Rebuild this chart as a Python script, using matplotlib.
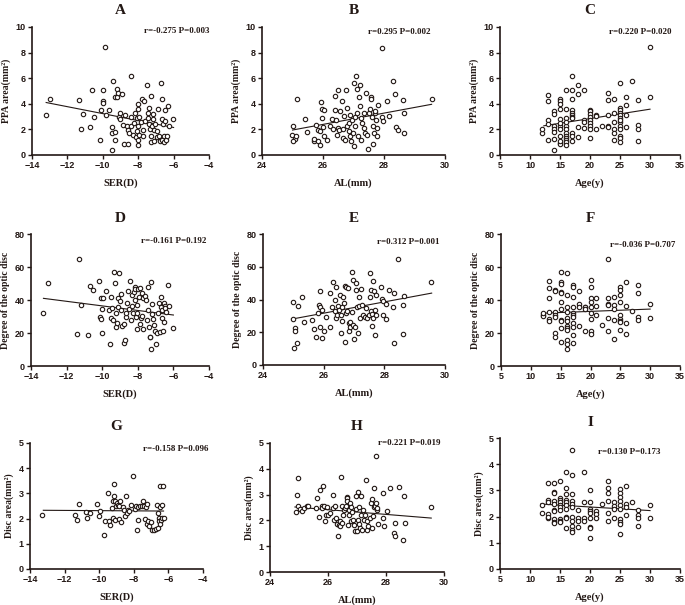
import matplotlib
matplotlib.use('Agg')
import matplotlib.pyplot as plt
import numpy as np

# ---- data ----
# panel A: SER(D) vs PPA area
a_points = [(-13.2, 3.1), (-12.97, 4.35), (-11.37, 4.3), (-11.24, 2.0), (-11.13, 3.24), (-10.75, 2.18),
            (-10.62, 5.05), (-10.5, 3.0), (-10.15, 1.19), (-10.1, 3.5), (-10.0, 5.05), (-10.0, 4.25),
            (-9.97, 4.1), (-9.87, 8.4), (-9.82, 3.13), (-9.67, 3.5), (-9.5, 0.41), (-9.5, 2.15), (-9.5, 1.7),
            (-9.4, 5.78), (-9.31, 1.19), (-9.29, 4.5), (-9.2, 4.56), (-9.18, 5.13), (-9.12, 4.84),
            (-9.07, 2.95), (-9.03, 3.26), (-9.0, 2.82), (-8.92, 4.74), (-8.84, 2.36), (-8.8, 0.83),
            (-8.75, 3.13), (-8.65, 2.23), (-8.6, 0.88), (-8.56, 1.97), (-8.5, 1.71), (-8.41, 2.23),
            (-8.41, 3.0), (-8.39, 6.2), (-8.28, 1.58), (-8.24, 2.49), (-8.19, 3.26), (-8.13, 1.4),
            (-8.05, 2.88), (-8.05, 1.89), (-8.03, 3.96), (-8.02, 3.58), (-8.0, 2.23), (-8.0, 1.19),
            (-8.0, 0.78), (-7.98, 1.58), (-7.94, 3.0), (-7.87, 2.54), (-7.8, 4.4), (-7.75, 1.97),
            (-7.71, 1.5), (-7.68, 4.25), (-7.62, 2.67), (-7.53, 5.44), (-7.47, 3.26), (-7.43, 2.88),
            (-7.39, 3.7), (-7.38, 2.43), (-7.34, 2.02), (-7.3, 4.64), (-7.28, 1.45), (-7.25, 1.04),
            (-7.23, 2.28), (-7.19, 3.24), (-7.15, 2.82), (-7.11, 1.06), (-7.08, 1.97), (-7.04, 2.43),
            (-6.96, 1.4), (-6.91, 1.84), (-6.87, 3.58), (-6.83, 1.45), (-6.78, 1.06), (-6.72, 5.6),
            (-6.68, 4.38), (-6.66, 2.8), (-6.65, 1.19), (-6.61, 2.43), (-6.57, 0.98), (-6.53, 1.5),
            (-6.5, 2.62), (-6.46, 3.52), (-6.42, 1.14), (-6.36, 1.45), (-6.3, 3.83), (-6.25, 2.23),
            (-6.05, 2.8), (-9.3, 1.76)]

# panel B: AL(mm) vs PPA area
b_points = [(25.09, 1.24), (24.98, 1.58), (25.0, 2.28), (25.03, 1.06), (25.1, 1.45), (25.15, 4.38),
            (25.42, 2.8), (25.47, 1.76), (25.69, 1.06), (25.78, 2.36), (25.82, 1.97), (25.85, 1.06),
            (25.89, 0.8), (25.93, 4.17), (25.96, 2.88), (25.97, 3.6), (26.02, 3.52), (26.0, 2.18),
            (26.04, 1.45), (26.13, 1.19), (26.24, 2.23), (26.29, 2.8), (26.34, 2.02), (26.38, 4.64),
            (26.4, 3.52), (26.43, 2.75), (26.45, 1.58), (26.48, 2.1), (26.5, 5.08), (26.54, 1.97),
            (26.56, 3.4), (26.62, 4.22), (26.64, 1.32), (26.67, 2.02), (26.69, 3.08), (26.73, 1.19),
            (26.75, 5.08), (26.78, 2.28), (26.8, 3.65), (26.84, 2.49), (26.85, 1.84), (26.87, 3.13),
            (26.89, 1.45), (26.91, 1.06), (26.94, 2.75), (26.98, 1.71), (27.0, 0.73), (27.02, 5.65),
            (27.04, 3.0), (27.06, 2.23), (27.09, 6.17), (27.11, 3.32), (27.13, 5.13), (27.15, 1.45),
            (27.17, 4.56), (27.2, 3.83), (27.22, 5.47), (27.24, 2.88), (27.26, 1.19), (27.28, 2.49),
            (27.33, 3.32), (27.35, 2.1), (27.38, 1.71), (27.41, 4.87), (27.44, 1.58), (27.48, 0.47),
            (27.52, 3.26), (27.54, 3.58), (27.57, 4.56), (27.59, 4.35), (27.61, 3.0), (27.63, 2.28),
            (27.65, 0.85), (27.68, 1.71), (27.7, 3.26), (27.72, 3.45), (27.74, 2.75), (27.76, 2.1),
            (27.78, 1.45), (27.81, 3.91), (27.94, 8.37), (27.93, 2.93), (27.96, 2.69), (28.09, 4.25),
            (28.18, 3.06), (28.31, 5.78), (28.36, 4.74), (28.38, 2.15), (28.47, 1.97), (28.63, 4.3),
            (28.66, 3.26), (28.67, 1.71), (29.56, 4.35), (25.91, 1.84), (25.69, 1.24)]

# panel C: Age(y) vs PPA area, one list of values per age
c_ages = [12, 13, 14, 15, 16, 17, 18, 19, 20, 21, 22, 23, 24, 25, 26, 27, 28, 30]
c_vals = [[1.7, 2.0],
          [4.65, 4.25, 2.7, 2.4, 1.15],
          [3.4, 3.2, 2.3, 2.0, 1.8, 1.25, 0.42],
          [4.4, 4.25, 4.0, 3.6, 2.8, 2.3, 2.0, 1.5, 0.9, 0.85, 1.1, 2.5],
          [5.05, 3.6, 2.9, 2.3, 2.05, 1.7, 1.5, 1.35, 1.2, 1.05, 0.8, 2.6],
          [6.2, 5.05, 4.4, 3.5, 3.3, 3.15, 3.0, 2.9, 1.7, 1.5, 1.1],
          [5.45, 4.75, 2.15, 1.4],
          [5.1, 2.7, 2.6, 2.1],
          [3.55, 3.4, 3.2, 3.0, 2.7, 2.5, 2.25, 2.0, 1.3],
          [3.1, 3.05, 2.05],
          [2.3],
          [4.85, 4.3, 3.1, 2.25, 2.2],
          [4.4, 3.3, 2.6, 2.0, 1.75, 1.15],
          [5.65, 3.7, 3.5, 3.3, 3.15, 2.9, 2.6, 2.3, 2.0, 1.5, 1.3, 1.05, 2.75],
          [4.55, 3.9, 3.1, 2.2],
          [5.75],
          [4.3, 2.35, 2.0, 1.1],
          [8.4, 4.55]]

# panel D: SER(D) vs degree of the optic disc
d_points = [(-13.3, 31.9), (-13.06, 50.6), (-11.43, 19.1), (-11.32, 64.8), (-11.19, 37.0), (-10.81, 18.7),
            (-10.68, 48.5), (-10.53, 46.1), (-10.19, 51.6), (-10.15, 29.8), (-10.06, 28.2), (-10.04, 41.0),
            (-10.0, 34.3), (-10.02, 19.7), (-9.93, 41.0), (-9.78, 45.7), (-9.63, 33.9), (-9.55, 13.6),
            (-9.53, 28.8), (-9.53, 42.0), (-9.44, 34.9), (-9.4, 27.8), (-9.31, 56.9), (-9.29, 50.2),
            (-9.25, 23.4), (-9.22, 32.3), (-9.18, 25.8), (-9.14, 41.0), (-9.1, 35.5), (-9.03, 56.4),
            (-8.99, 39.6), (-8.95, 33.9), (-8.92, 43.5), (-8.88, 24.2), (-8.8, 25.4), (-8.77, 14.0),
            (-8.73, 16.0), (-8.69, 29.4), (-8.65, 31.9), (-8.6, 38.4), (-8.54, 45.7), (-8.47, 34.3),
            (-8.43, 51.6), (-8.39, 27.8), (-8.35, 36.3), (-8.32, 43.0), (-8.28, 31.9), (-8.24, 45.1),
            (-8.18, 40.0), (-8.15, 47.7), (-8.13, 46.5), (-8.09, 29.8), (-8.07, 22.7), (-8.05, 37.0),
            (-8.02, 32.3), (-7.98, 46.5), (-7.94, 41.6), (-7.9, 47.1), (-7.87, 25.4), (-7.83, 28.8),
            (-7.79, 30.3), (-7.75, 44.1), (-7.71, 22.7), (-7.68, 41.0), (-7.6, 42.4), (-7.53, 40.0),
            (-7.47, 27.8), (-7.43, 47.7), (-7.41, 33.9), (-7.38, 23.4), (-7.34, 17.3), (-7.3, 17.7),
            (-7.28, 10.6), (-7.25, 51.2), (-7.23, 31.3), (-7.19, 37.6), (-7.15, 28.2), (-7.11, 24.8),
            (-7.06, 21.3), (-6.96, 13.2), (-6.93, 20.1), (-6.87, 31.9), (-6.83, 38.0), (-6.78, 20.7),
            (-6.72, 35.9), (-6.68, 42.0), (-6.66, 28.8), (-6.63, 33.9), (-6.59, 21.3), (-6.55, 38.4),
            (-6.53, 26.8), (-6.5, 36.3), (-6.46, 34.9), (-6.4, 32.9), (-6.3, 48.9), (-6.25, 36.3),
            (-6.03, 23.1)]

# panel E: AL(mm) vs degree of the optic disc
e_points = [(24.99, 38.2), (24.99, 28.2), (25.01, 10.2), (25.05, 22.4), (25.07, 21.0), (25.12, 13.3),
            (25.17, 36.3), (25.3, 41.8), (25.34, 26.5), (25.6, 27.6), (25.67, 21.8), (25.76, 17.3),
            (25.8, 31.6), (25.85, 36.7), (25.87, 44.9), (25.87, 23.5), (25.89, 35.3), (25.93, 16.7),
            (25.96, 33.7), (26.0, 20.8), (26.07, 29.6), (26.2, 43.9), (26.22, 23.1), (26.28, 35.3),
            (26.31, 50.4), (26.36, 32.7), (26.39, 39.8), (26.4, 47.6), (26.42, 28.6), (26.44, 30.6),
            (26.48, 36.1), (26.49, 33.7), (26.53, 42.9), (26.56, 30.6), (26.58, 19.4), (26.6, 27.1),
            (26.62, 35.3), (26.64, 41.8), (26.68, 37.8), (26.7, 48.4), (26.71, 14.3), (26.73, 31.6),
            (26.75, 47.6), (26.78, 32.7), (26.81, 46.9), (26.82, 21.0), (26.84, 25.5), (26.86, 23.5),
            (26.88, 26.5), (26.92, 32.2), (26.94, 56.5), (26.96, 24.5), (26.98, 52.0), (27.01, 15.7),
            (27.03, 23.1), (27.05, 45.9), (27.08, 50.0), (27.11, 35.7), (27.13, 19.8), (27.15, 41.4),
            (27.17, 36.1), (27.19, 28.6), (27.23, 46.3), (27.25, 36.7), (27.3, 30.6), (27.36, 29.6),
            (27.39, 34.7), (27.44, 28.6), (27.5, 30.6), (27.52, 56.1), (27.53, 41.4), (27.55, 32.7),
            (27.57, 45.9), (27.58, 23.9), (27.6, 31.2), (27.61, 28.6), (27.63, 51.6), (27.66, 44.9),
            (27.68, 33.7), (27.7, 18.4), (27.72, 42.9), (27.74, 30.6), (27.88, 47.6), (27.91, 40.2),
            (27.94, 38.8), (27.96, 30.6), (28.05, 28.0), (28.07, 37.3), (28.16, 45.9), (28.27, 35.3),
            (28.32, 43.9), (28.33, 13.7), (28.44, 64.9), (28.6, 19.0), (28.63, 36.7), (28.65, 42.2),
            (29.54, 50.4)]

# panel F: Age(y) vs degree of the optic disc
f_ages = [12, 13, 14, 15, 16, 17, 18, 19, 20, 21, 22, 23, 24, 25, 26, 27, 28, 30]
f_vals = [[31, 30.5, 32],
          [51.5, 47.5, 41, 32.5, 28.5, 27],
          [46, 45.5, 33, 31, 29.5, 20, 17.5],
          [57, 51, 50, 45, 44, 39, 34.5, 28, 27, 23, 14.5],
          [56.5, 43, 36, 33, 29, 27, 24.5, 23, 16, 13.5, 10.5, 22],
          [49, 48, 42, 35.5, 32, 31, 30, 26, 23.5, 18.5, 14],
          [45.5, 37.5, 35.5, 24],
          [36, 35.5, 34.5, 21],
          [52, 48, 41, 38.5, 36, 32, 28.5, 21, 19.5],
          [41, 36.5, 31],
          [25],
          [65, 41, 37.5, 37, 29, 21],
          [42, 37, 34.5, 28, 16.5],
          [48, 46, 43, 38.5, 31, 28.5, 27.5, 26.5, 22],
          [51, 36.5, 26, 19.5],
          [33.5],
          [49, 44, 30, 28],
          [37.5, 29]]

# panel G: SER(D) vs disc area
g_points = [(-13.29, 2.14), (-11.39, 2.14), (-11.26, 1.93), (-11.14, 2.57), (-10.76, 2.25), (-10.68, 2.04),
            (-10.53, 2.22), (-10.14, 2.58), (-10.04, 2.09), (-9.95, 2.29), (-9.75, 1.36), (-9.66, 1.89),
            (-9.52, 3.02), (-9.46, 1.92), (-9.37, 1.76), (-9.27, 2.42), (-9.23, 2.69), (-9.21, 2.02),
            (-9.17, 3.39), (-9.14, 2.91), (-9.1, 2.69), (-9.06, 1.96), (-9.02, 2.51), (-8.98, 2.62),
            (-8.94, 2.55), (-8.88, 1.98), (-8.83, 2.51), (-8.79, 2.69), (-8.75, 1.85), (-8.63, 2.46),
            (-8.56, 2.35), (-8.48, 2.12), (-8.44, 2.91), (-8.4, 2.22), (-8.34, 2.35), (-8.25, 2.29),
            (-8.17, 2.55), (-8.02, 3.68), (-7.92, 2.38), (-7.86, 2.51), (-7.82, 1.56), (-7.78, 1.96),
            (-7.75, 2.46), (-7.67, 2.51), (-7.53, 2.49), (-7.44, 2.69), (-7.4, 2.51), (-7.34, 1.98),
            (-7.3, 2.46), (-7.24, 2.59), (-7.22, 1.8), (-7.19, 1.89), (-7.15, 1.72), (-7.01, 1.85),
            (-6.95, 1.56), (-6.82, 1.56), (-6.7, 1.59), (-6.66, 2.55), (-6.63, 2.22), (-6.59, 1.63),
            (-6.57, 2.02), (-6.55, 1.89), (-6.51, 2.46), (-6.51, 3.31), (-6.47, 1.8), (-6.43, 1.96),
            (-6.39, 2.02), (-6.37, 2.55), (-6.32, 3.31), (-6.28, 2.02)]

# panel H: AL(mm) vs disc area
h_points = [(24.89, 2.33), (24.94, 3.0), (24.95, 3.64), (24.97, 2.57), (25.03, 2.44), (25.09, 2.35),
            (25.17, 2.48), (25.26, 2.55), (25.3, 2.57), (25.58, 2.48), (25.63, 2.87), (25.7, 2.13),
            (25.74, 3.17), (25.78, 2.57), (25.81, 2.48), (25.83, 3.35), (25.86, 2.55), (25.89, 1.96),
            (25.93, 2.22), (25.95, 2.52), (26.0, 2.22), (26.06, 2.29), (26.16, 3.0), (26.18, 2.48),
            (26.21, 2.03), (26.25, 2.57), (26.27, 2.09), (26.32, 1.87), (26.35, 1.38), (26.37, 1.83),
            (26.4, 1.96), (26.42, 1.8), (26.44, 3.67), (26.47, 1.9), (26.49, 2.55), (26.52, 2.22),
            (26.55, 2.42), (26.58, 2.48), (26.61, 2.57), (26.64, 2.91), (26.65, 2.87), (26.67, 2.74),
            (26.7, 1.83), (26.72, 2.42), (26.74, 2.22), (26.76, 2.67), (26.79, 1.96), (26.81, 2.52),
            (26.84, 2.31), (26.87, 2.03), (26.9, 1.83), (26.92, 1.58), (26.95, 2.44), (26.97, 2.93),
            (26.99, 1.58), (27.02, 3.11), (27.04, 2.03), (27.06, 2.52), (27.08, 1.87), (27.11, 1.71),
            (27.13, 2.22), (27.15, 2.93), (27.18, 1.64), (27.21, 2.42), (27.25, 2.03), (27.27, 2.22),
            (27.3, 3.55), (27.33, 1.96), (27.36, 1.61), (27.39, 1.8), (27.44, 2.09), (27.47, 2.67),
            (27.5, 2.83), (27.52, 1.71), (27.54, 2.16), (27.57, 2.52), (27.59, 3.26), (27.61, 2.57),
            (27.64, 4.51), (27.66, 2.67), (27.68, 2.42), (27.7, 2.48), (27.73, 1.87), (27.88, 3.06),
            (27.9, 2.09), (27.92, 1.77), (28.04, 2.35), (28.13, 3.26), (28.27, 1.51), (28.3, 1.41),
            (28.32, 1.9), (28.45, 3.29), (28.59, 1.23), (28.62, 2.93), (28.64, 1.9), (29.56, 2.52)]

# panel I: Age(y) vs disc area
i_ages = [12, 13, 14, 15, 16, 17, 18, 19, 20, 21, 22, 23, 24, 25, 26, 27, 28, 30]
i_vals = [[2.45, 2.15],
          [3.3, 2.65, 2.55, 2.1, 1.95, 2.0],
          [3.3, 2.95, 2.9, 2.6, 2.5, 2.25, 2.2, 1.9, 1.8, 1.75],
          [3.35, 2.7, 2.65, 2.55, 2.45, 2.35, 2.25, 1.9, 1.85, 1.8],
          [3.7, 3.1, 2.85, 2.65, 2.55, 2.45, 2.3, 2.0, 1.95, 1.55],
          [4.55, 3.6, 2.85, 2.6, 2.5, 2.35, 2.0, 1.85, 1.65, 1.5, 1.4],
          [2.25, 1.95, 1.85, 1.6],
          [3.7, 2.55, 1.95, 1.85],
          [3.0, 2.55, 2.3, 2.2, 2.15, 1.95, 1.6, 1.55, 1.2],
          [2.2, 2.1, 1.95],
          [2.5],
          [3.35, 3.1, 2.9, 2.6, 2.15, 1.85],
          [2.55, 2.4, 2.3, 1.95],
          [3.05, 2.9, 2.75, 2.6, 2.45, 2.3, 1.9, 1.8, 1.7, 1.35],
          [3.15, 2.5, 2.35, 2.05],
          [2.55],
          [2.25, 2.05, 1.95, 1.65],
          [2.45, 1.95]]

# fitted lines (start, end)
fit_x = {'A': (-13.2, -6.0), 'B': (25.0, 29.56), 'C': (12.3, 30.0),
         'D': (-13.3, -6.0), 'E': (24.94, 29.56), 'F': (12.0, 30.0),
         'G': (-13.23, -6.28), 'H': (24.86, 29.56), 'I': (11.8, 30.0)}
fit_y = {'A': (4.1, 2.15), 'B': (1.95, 3.96), 'C': (2.28, 3.58),
         'D': (41.0, 30.9), 'E': (28.0, 43.9), 'F': (32.0, 34.5),
         'G': (2.33, 2.30), 'H': (2.52, 2.09), 'I': (2.48, 2.23)}

stats = {'A': 'r=-0.275 P=0.003', 'B': 'r=0.295 P=0.002', 'C': 'r=0.220 P=0.020',
         'D': 'r=-0.161 P=0.192', 'E': 'r=0.312 P=0.001', 'F': 'r=-0.036 P=0.707',
         'G': 'r=-0.158 P=0.096', 'H': 'r=0.221 P=0.019', 'I': 'r=0.130 P=0.173'}


def expand(ages, vals):
    xs, ys = [], []
    for a, v in zip(ages, vals):
        xs += [a] * len(v)
        ys += v
    return xs, ys


def unpack(points):
    xs, ys = zip(*points)
    return list(xs), list(ys)


data = {'A': unpack(a_points), 'B': unpack(b_points), 'C': expand(c_ages, c_vals),
        'D': unpack(d_points), 'E': unpack(e_points), 'F': expand(f_ages, f_vals),
        'G': unpack(g_points), 'H': unpack(h_points), 'I': expand(i_ages, i_vals)}

W, H = 685, 605
# axes boxes in pixels: left, top, right, bottom
boxes = {'A': (32, 27, 209, 155), 'B': (262, 27, 445, 155), 'C': (500, 27, 680, 155),
         'D': (31, 234, 209, 366), 'E': (263, 234, 445, 365), 'F': (501, 234, 680, 366),
         'G': (30, 443, 203, 569), 'H': (270, 443, 444, 572), 'I': (500, 438, 680, 569)}
text_pos = {'A': (0.82, 0.97), 'B': (0.75, 0.96), 'C': (0.78, 0.96),
            'D': (0.80, 0.95), 'E': (0.80, 0.94), 'F': (0.79, 0.92),
            'G': (0.84, 0.95), 'H': (0.80, 1.00), 'I': (0.72, 0.89)}

ser_ticks = [-14, -12, -10, -8, -6, -4]
al_ticks = [24, 26, 28, 30]
age_ticks = [5, 10, 15, 20, 25, 30, 35]

col = '#231815'
serif = 'Liberation Serif'
sans = 'Liberation Sans'

fig = plt.figure(figsize=(W / 100, H / 100), dpi=100)

for key, (l, t, r, b) in boxes.items():
    ax = fig.add_axes([l / W, 1 - b / H, (r - l) / W, (b - t) / H])
    xs, ys = data[key]
    ax.scatter(xs, ys, s=10, facecolors='white', edgecolors=col, linewidths=0.8, zorder=3, clip_on=False)
    ax.plot(fit_x[key], fit_y[key], color=col, lw=0.8, zorder=2)

    if key in 'ADG':
        ax.set_xlim(-14, -4)
        ax.set_xticks(ser_ticks)
        ax.set_xlabel('SER(D)')
    elif key in 'BEH':
        ax.set_xlim(24, 30)
        ax.set_xticks(al_ticks)
        ax.set_xlabel('AL(mm)')
    else:
        ax.set_xlim(5, 35)
        ax.set_xticks(age_ticks)
        ax.set_xlabel('Age(y)')

    if key in 'ABC':
        ax.set_ylim(0, 10)
        ax.set_yticks([0, 2, 4, 6, 8, 10])
        ax.set_ylabel('PPA area(mm²)')
    elif key in 'DEF':
        ax.set_ylim(0, 80)
        ax.set_yticks([0, 20, 40, 60, 80])
        ax.set_ylabel('Degree of the optic disc')
    else:
        ax.set_ylim(0, 5)
        ax.set_yticks([0, 1, 2, 3, 4, 5])
        ax.set_ylabel('Disc area(mm²)')

    ax.xaxis.label.set(family=serif, weight='bold', size=7.5, color=col)
    ax.yaxis.label.set(family=serif, weight='bold', size=7, color=col)
    ax.xaxis.labelpad = 6
    ax.yaxis.labelpad = 3

    for s in ['top', 'right']:
        ax.spines[s].set_visible(False)
    for s in ['left', 'bottom']:
        ax.spines[s].set_linewidth(1.2)
        ax.spines[s].set_color(col)
    ax.tick_params(direction='out', length=3, width=1.0, color=col, labelcolor=col, pad=1.5)
    for lab in ax.get_xticklabels() + ax.get_yticklabels():
        lab.set_family(sans)
        lab.set_weight('bold')
        lab.set_fontsize(6.5)

    ax.set_title(key, family=serif, weight='bold', fontsize=11, color=col, pad=9)
    tx, ty = text_pos[key]
    ax.text(tx, ty, stats[key], transform=ax.transAxes, ha='center', va='center',
            family=serif, weight='bold', fontsize=6.5, color=col)

fig.savefig('out.png', dpi=100)
